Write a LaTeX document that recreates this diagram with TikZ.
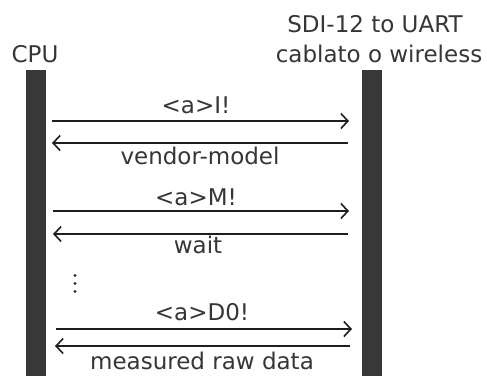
\documentclass[tikz,border=0pt]{standalone}
\usepackage{fontspec}
\setmainfont{DejaVu Sans}
\usetikzlibrary{arrows.meta}
\definecolor{barcol}{HTML}{383838}
\definecolor{txtcol}{HTML}{363636}
\definecolor{lncol}{HTML}{1E1E1E}
\tikzset{
  lifeline/.style={fill=barcol, draw=none},
  msg/.style={draw=lncol, line width=1.8pt, -{Straight Barb[length=7pt,width=15pt,line width=1.6pt]}},
  lbl/.style={anchor=base, inner sep=0pt, text=txtcol, font=\fontsize{23}{27}\selectfont},
  dot/.style={fill=txtcol, draw=none, circle, minimum size=3.4pt, inner sep=0pt},
}
\begin{document}
\begin{tikzpicture}[x=1pt,y=-1pt]
\useasboundingbox (0,0) rectangle (487,376);
\fill[white] (0,0) rectangle (487,376);
% lifelines
\fill[lifeline] (26,70) rectangle (46,376);
\fill[lifeline] (362,70) rectangle (382,376);
% headers
\node[lbl] (cpu) at (35,62) {CPU};
\node[lbl] (sdi1) at (375,32) {SDI-12 to UART};
\node[lbl] (sdi2) at (379,62) {cablato o wireless};
% coordinates
\coordinate (l1) at (52,121);  \coordinate (r1) at (349,121);
\coordinate (l2) at (52,143);  \coordinate (r2) at (348,143);
\coordinate (l3) at (53,211);  \coordinate (r3) at (349,211);
\coordinate (l4) at (53,234);  \coordinate (r4) at (348,234);
\coordinate (l5) at (56,329);  \coordinate (r5) at (352,329);
\coordinate (l6) at (55,346);  \coordinate (r6) at (350,346);
% messages
\draw[msg] (l1) -- (r1);
\draw[msg] (r2) -- (l2);
\draw[msg] (l3) -- (r3);
\draw[msg] (r4) -- (l4);
\draw[msg] (l5) -- (r5);
\draw[msg] (r6) -- (l6);
% labels
\node[lbl] (m1) at (196,113) {<a>I!};
\node[lbl] (m2) at (200,164) {vendor-model};
\node[lbl] (m3) at (196,205) {<a>M!};
\node[lbl] (m4) at (198,253) {wait};
\node[lbl] (m5) at (202,320) {<a>D0!};
\node[lbl] (m6) at (202,369) {measured raw data};
% vertical ellipsis
\node[dot] (d1) at (75,275.5) {};
\node[dot] (d2) at (75,283.5) {};
\node[dot] (d3) at (75,291.5) {};
\end{tikzpicture}
\end{document}
